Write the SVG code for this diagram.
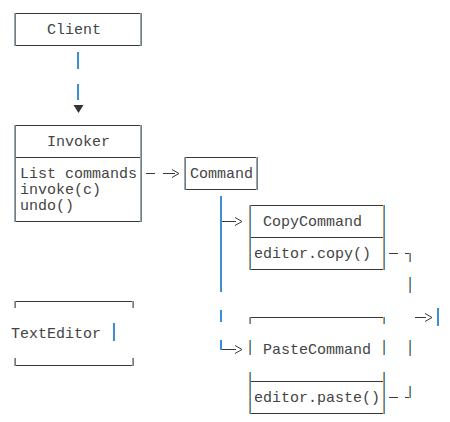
<svg xmlns="http://www.w3.org/2000/svg" width="450" height="422" viewBox="0 0 450 422">
<style>
text{font-family:"Liberation Mono","Courier New",monospace;font-size:15px;fill:#444}
.h{stroke:#3a3a3a;stroke-width:1;fill:none}
.o{stroke:#d49a55;stroke-width:1;fill:none}
.b{stroke:#3a8ad8;stroke-width:1;fill:none}
.bb{stroke:#3f8dd8;stroke-width:2;fill:none}
.ah{fill:#333}
</style>
<rect width="450" height="422" fill="#fff"/>
<g id="client">
<path class="h" d="M14 13.5H142M14 45.5H142"/>
<path class="o" d="M14.5 13V46M140.5 13V46"/>
<path class="b" d="M15.5 13V46M141.5 13V46"/>
<text x="47" y="33.5">Client</text>
</g>
<g id="invoker">
<path class="h" d="M14 125.5H142M14 157.5H142M14 221.5H142"/>
<path class="o" d="M14.5 125V222M140.5 125V222"/>
<path class="b" d="M15.5 125V222M141.5 125V222"/>
<text x="47" y="145.5">Invoker</text>
<text x="20" y="177.5">List commands</text>
<text x="20" y="193.5">invoke(c)</text>
<text x="20" y="209.5">undo()</text>
</g>
<g id="command">
<path class="h" d="M184 157.5H258M184 189.5H258"/>
<path class="o" d="M184.5 157V190M256.5 157V190"/>
<path class="b" d="M185.5 157V190M257.5 157V190"/>
<text x="190" y="177.5">Command</text>
</g>
<g id="copycommand">
<path class="h" d="M249 205.5H385M249 237.5H385M249 269.5H385"/>
<path class="o" d="M249.5 205V270M383.5 205V270"/>
<path class="b" d="M250.5 205V270M384.5 205V270"/>
<text x="263" y="225.5">CopyCommand</text>
<text x="254" y="257.5">editor.copy()</text>
</g>
<g id="pastecommand">
<path class="h" d="M249 317.5H385M249 381.5H385M249 413.5H385"/>
<path class="o" d="M249.5 317V324M383.5 317V324M249.5 340V355M383.5 340V355M249.5 372V414M383.5 372V414"/>
<path class="b" d="M250.5 317V324M384.5 317V324M250.5 340V355M384.5 340V355M250.5 372V414M384.5 372V414"/>
<text x="263" y="353.5">PasteCommand</text>
<text x="254" y="401.5">editor.paste()</text>
</g>
<g id="texteditor">
<path class="h" d="M14 301.5H134M14 365.5H134"/>
<path class="o" d="M14.5 301V308M132.5 301V308M14.5 358V366M132.5 358V366"/>
<path class="b" d="M15.5 301V308M133.5 301V308M15.5 358V366M133.5 358V366"/>
<path class="bb" d="M114 323V341"/>
<text x="11" y="337.5">TextEditor</text>
</g>
<g id="connectors">
<path class="bb" d="M78 52V69M78 84V100M221 196V292M221 310V322M221 340V350M438 308V326"/>
<path class="ah" d="M73.5 105H83.5L78.5 113Z"/>
<path class="h" d="M146 173.5H155M163 173.5H175M172 169.5L179 173.5L172 177.5"/>
<path class="h" d="M222 221.5H236M235 217.5L242 221.5L235 225.5M222 349.5H236M235 345.5L242 349.5L235 353.5"/>
<path class="h" d="M389 253.5H398M405 253.5H411M389 397.5H398M405 397.5H411M415 317.5H426M425 313.5L432 317.5L425 321.5"/>
<path class="o" d="M409.5 253V262M409.5 277V293M409.5 340V356M409.5 386V398"/>
<path class="b" d="M410.5 253V262M410.5 277V293M410.5 340V356M410.5 386V398"/>
</g>
</svg>
